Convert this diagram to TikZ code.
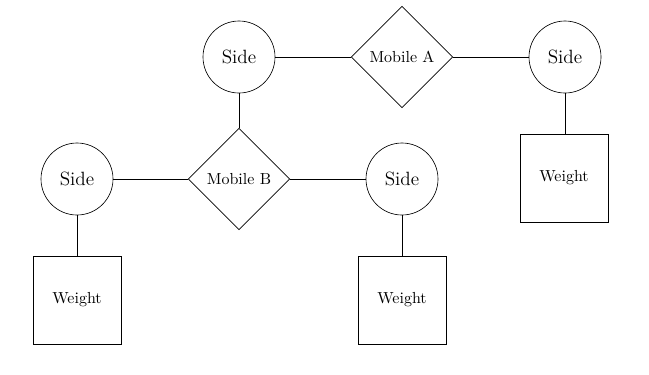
\documentclass[tikz,border=0pt]{standalone}
\usetikzlibrary{shapes.geometric}
\begin{document}
\begin{tikzpicture}[x=0.625pt,y=-0.625pt,
  sidebox/.style={circle,draw,minimum size=45pt,inner sep=0pt,font=\large},
  mobbox/.style={diamond,draw,minimum width=63.5pt,minimum height=63.5pt,inner sep=0pt},
  wbox/.style={rectangle,draw,minimum size=55pt,inner sep=0pt}]
\useasboundingbox (0,0) rectangle (649,374);
\node[sidebox] (s1) at (239,57) {Side};
\node[mobbox] (ma) at (402,57) {Mobile A};
\node[sidebox] (s2) at (565,57) {Side};
\node[wbox] (w2) at (564,178) {Weight};
\node[mobbox] (mb) at (239,179) {Mobile B};
\node[sidebox] (s3) at (77,179) {Side};
\node[sidebox] (s4) at (402,179) {Side};
\node[wbox] (w3) at (77,300) {Weight};
\node[wbox] (w4) at (402,300) {Weight};
\draw (s1) -- (ma);
\draw (ma) -- (s2);
\draw (s2) -- (s2 |- w2.north);
\draw (s1) -- (mb);
\draw (mb) -- (s3);
\draw (mb) -- (s4);
\draw (s3) -- (w3);
\draw (s4) -- (w4);
\end{tikzpicture}
\end{document}
